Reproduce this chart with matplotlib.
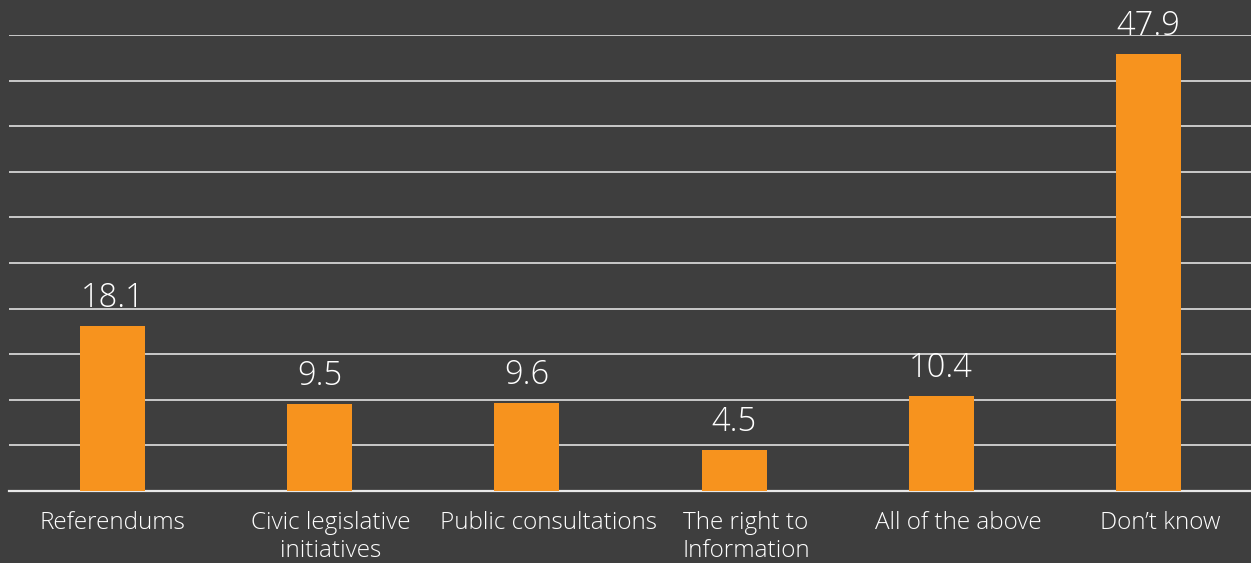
import matplotlib.pyplot as plt
import matplotlib.transforms as mtransforms
import numpy as np

# Survey shares, percent of respondents.
categories = ["Referendums", "Civic legislative\ninitiatives", "Public consultations",
              "The right to\nInformation", "All of the above", "Don\u2019t know"]
values = [18.1, 9.5, 9.6, 4.5, 10.4, 47.9]

BG = "#3e3e3e"
BAR = "#f7931e"

plt.rcParams["font.family"] = ["Open Sans", "DejaVu Sans"]

fig = plt.figure(figsize=(12.51, 5.63), dpi=100, facecolor=BG)
ax = fig.add_axes([9 / 1251, 1 - 491 / 563, 1243 / 1251, 456 / 563])
ax.set_facecolor(BG)

x = np.arange(len(categories))
bars = ax.bar(x, values, width=0.314, color=BAR, zorder=3)

ax.set_xlim(-0.5, len(categories) - 0.5)
ax.set_ylim(0, 50)
ax.set_yticks(np.arange(5, 55, 5))
ax.yaxis.grid(True, color="#d4d4d4", linewidth=1.3, zorder=0)
ax.tick_params(left=False, labelleft=False, bottom=False)
for side in ["top", "right", "left"]:
    ax.spines[side].set_visible(False)
ax.spines["bottom"].set_color("#e8e8e8")
ax.spines["bottom"].set_linewidth(1.6)

ax.set_xticks(x)
ax.set_xticklabels(categories, color="white", fontsize=17.5, linespacing=1.2,
                   fontweight="light")
ax.tick_params(axis="x", pad=11)

# nudge the wrapped labels a little to the right, in pixels
shifts = [0, 11, 22, 12, 17, 12]
for lbl, dx in zip(ax.get_xticklabels(), shifts):
    lbl.set_transform(lbl.get_transform() +
                      mtransforms.ScaledTranslation(dx / 100, 0, fig.dpi_scale_trans))

for rect, v in zip(bars, values):
    ax.annotate(f"{v}", (rect.get_x() + rect.get_width() / 2, v),
                xytext=(0, 8), textcoords="offset points",
                ha="center", va="bottom", color="white",
                fontsize=23.5, fontweight="light", clip_on=False)

fig.savefig("out.png", facecolor=BG)
